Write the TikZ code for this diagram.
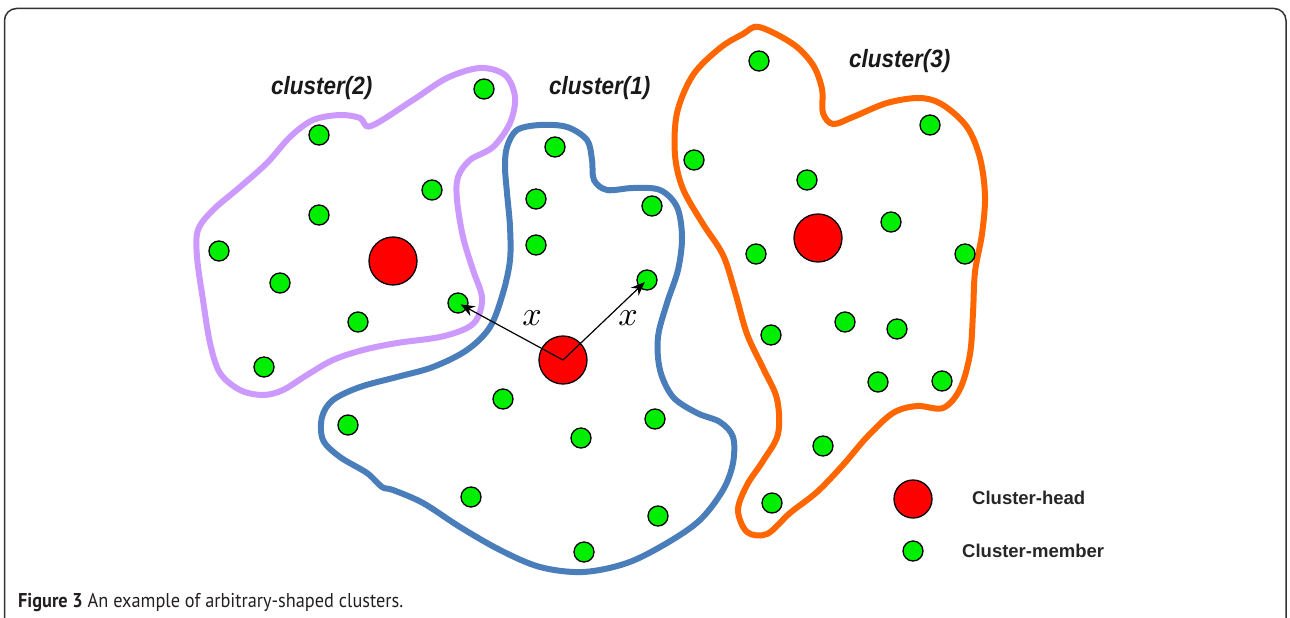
\documentclass[tikz,border=0pt]{standalone}
\usepackage{fontspec}
\setsansfont{Liberation Sans}
\newfontfamily\capfont{PT Sans}
\usetikzlibrary{arrows.meta}
\definecolor{cpurple}{RGB}{204,153,255}
\definecolor{cblue}{RGB}{74,126,187}
\definecolor{corange}{RGB}{255,102,0}
\definecolor{cgreen}{RGB}{0,238,0}
\definecolor{cred}{RGB}{255,0,0}
\definecolor{captext}{RGB}{35,31,32}
\tikzset{
  member/.style={circle,draw=black,fill=cgreen,minimum size=20pt,inner sep=0pt,line width=1.3pt},
  head/.style={circle,draw=black,fill=cred,minimum size=48pt,inner sep=0pt,line width=1.3pt},
  lhead/.style={circle,draw=black,fill=cred,minimum size=38pt,inner sep=0pt,line width=1.3pt},
  outline/.style={line width=6pt},
  arr/.style={line width=1.2pt,-{Stealth[length=14pt,width=11pt]},shorten >=3pt},
  clabel/.style={anchor=base west,inner sep=0pt,font=\sffamily\bfseries\itshape\fontsize{25}{30}\selectfont,text=black!90},
  legtext/.style={anchor=base west,inner sep=0pt,font=\sffamily\bfseries\fontsize{18.5}{22}\selectfont,text=black!85},
  xlabel/.style={inner sep=0pt},
  frame/.style={draw=black!80,line width=1.5pt,rounded corners=12pt}
}
\begin{document}
\begin{tikzpicture}[x=1pt,y=-1pt]
\useasboundingbox (0,0) rectangle (1290,618);
\draw[frame] (4.5,625) -- (4.5,8.5) -- (1286,8.5) -- (1286,625);

% cluster 2 outline
\draw[outline,cpurple] plot[smooth cycle,tension=0.55] coordinates {
 (371,126) (413,100) (447,78) (480,68) (505,75) (515,97) (510,123) (493,147)
 (470,160) (458,177) (457,200) (463,237) (473,270) (482,297) (478,317) (467,328)
 (440,337) (397,343) (363,350) (333,360) (307,375) (283,390) (263,395) (240,390)
 (220,373) (210,343) (203,300) (197,257) (198,230) (213,210) (240,187) (267,163)
 (290,137) (313,120) (340,115) (360,118)};
% cluster 1 outline
\draw[outline,cblue] plot[smooth cycle,tension=0.55] coordinates {
 (507,147) (517,130) (540,125) (567,127) (587,140) (592,160) (594,180) (607,190)
 (633,188) (660,190) (677,207) (682,237) (678,270) (667,303) (658,337) (660,370)
 (673,397) (697,413) (720,422) (733,437) (733,463) (723,490) (700,520) (667,543)
 (627,563) (583,572) (540,567) (500,550) (460,527) (423,503) (393,490) (382,487)
 (367,473) (340,457) (323,440) (322,417) (333,400) (360,387) (397,377) (433,367)
 (467,350) (490,327) (503,293) (510,260) (510,227) (507,193) (505,167)};
% cluster 3 outline
\draw[outline,corange] plot[smooth cycle,tension=0.55] coordinates {
 (759,27) (793,44) (813,65) (822,89) (823,113) (833,124) (853,117) (887,103)
 (920,98) (943,105) (967,127) (980,158) (985,196) (982,234) (975,272) (973,313)
 (970,354) (960,389) (943,408) (917,406) (893,413) (867,437) (843,465) (817,492)
 (790,513) (767,534) (747,532) (738,510) (747,485) (763,461) (778,434) (777,399)
 (763,368) (747,334) (735,292) (723,255) (703,224) (683,189) (675,155) (677,113)
 (693,75) (720,48) (743,34)};

% labels
\node[clabel] (l2) at (271,95) {\scalebox{0.9}[1]{cluster(2)}};
\node[clabel] (l1) at (549,95) {\scalebox{0.9}[1]{cluster(1)}};
\node[clabel] (l3) at (849,67) {\scalebox{0.9}[1]{cluster(3)}};

% cluster 2 nodes
\node[head] (h2) at (393,261) {};
\node[member] (a1) at (484,89) {};
\node[member] (a2) at (319,135) {};
\node[member] (a3) at (432,190) {};
\node[member] (a4) at (319,215) {};
\node[member] (a5) at (219,251) {};
\node[member] (a6) at (280,283) {};
\node[member] (a7) at (358,322) {};
\node[member] (a8) at (458,303) {};
\node[member] (a9) at (264,367) {};

% cluster 1 nodes
\node[head] (h1) at (563,360) {};
\node[member] (b1) at (555,147) {};
\node[member] (b2) at (536,199) {};
\node[member] (b3) at (652,206) {};
\node[member] (b4) at (536,245) {};
\node[member] (b5) at (647,280) {};
\node[member] (b6) at (503,399) {};
\node[member] (b7) at (348,425) {};
\node[member] (b8) at (581,438) {};
\node[member] (b9) at (655,419) {};
\node[member] (b10) at (471,497) {};
\node[member] (b11) at (658,516) {};
\node[member] (b12) at (584,552) {};

% cluster 3 nodes
\node[head] (h3) at (818,238) {};
\node[member] (c1) at (759,61) {};
\node[member] (c2) at (930,125) {};
\node[member] (c3) at (694,160) {};
\node[member] (c4) at (807,180) {};
\node[member] (c5) at (891,222) {};
\node[member] (c6) at (756,254) {};
\node[member] (c7) at (965,254) {};
\node[member] (c8) at (771,335) {};
\node[member] (c9) at (845,322) {};
\node[member] (c10) at (897,329) {};
\node[member] (c11) at (878,382) {};
\node[member] (c12) at (942,381) {};
\node[member] (c13) at (823,446) {};
\node[member] (c14) at (772,503) {};

% distance arrows
\draw[arr] (h1.center) -- (a8.center);
\draw[arr] (h1.center) -- (b5.center);
\node[xlabel] (x1) at (532,318) {\scalebox{3.4}{$x$}};
\node[xlabel] (x2) at (628,318) {\scalebox{3.4}{$x$}};

% legend
\node[lhead] (lh) at (913,499) {};
\node[member] (lm) at (913,551) {};
\node[legtext] (lht) at (972,504) {Cluster-head};
\node[legtext] (lmt) at (962,557) {Cluster-member};

% caption
\node[anchor=base west,inner sep=0pt,text=captext,font=\capfont\fontsize{20}{24}\selectfont] (cap) at (18,607)
 {\scalebox{0.915}[1]{\textbf{Figure 3} An example of arbitrary-shaped clusters.}};
\end{tikzpicture}
\end{document}
